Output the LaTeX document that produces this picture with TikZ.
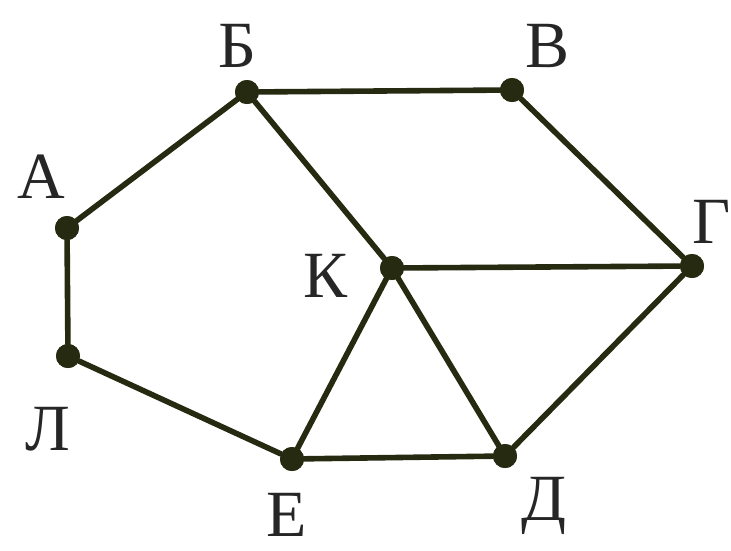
\documentclass[tikz,border=0pt]{standalone}
\usepackage{fontspec}
\setmainfont{Liberation Serif}
\usetikzlibrary{positioning}
\definecolor{olive}{HTML}{262A10}

\begin{document}
\begin{tikzpicture}[x=1pt,y=-1pt,
   v/.style={circle,fill=olive,draw=none,inner sep=0pt,minimum size=24pt},
   e/.style={draw=olive,line width=5.6pt,line cap=round},
   lbl/.style={inner sep=0pt,text=black!85,font=\fontsize{66}{66}\selectfont}]
  \useasboundingbox (0,0) rectangle (731,550);
  % vertices
  \node[v] (A) at (67,228) {};
  \node[v] (B) at (247,92) {};
  \node[v] (V) at (512,90) {};
  \node[v] (G) at (692,266) {};
  \node[v] (K) at (392,268) {};
  \node[v] (L) at (68,356) {};
  \node[v] (E) at (292,459) {};
  \node[v] (D) at (505,456) {};
  % edges
  \foreach \a/\b in {A/B,B/V,V/G,B/K,K/G,K/E,K/D,G/D,E/D,L/E,A/L}
    \draw[e] (\a) -- (\b);
  \foreach \n in {A,B,V,G,K,L,E,D}
    \node[v] at (\n) {};
  % labels
  \node[lbl] (lA) at (41,177) {А};
  \node[lbl] (lB) at (237,46) {Б};
  \node[lbl] (lV) at (548,46) {В};
  \node[lbl] (lG) at (712,222) {Г};
  \node[lbl] (lK) at (326,276) {К};
  \node[lbl] (lL) at (48,429) {Л};
  \node[lbl] (lE) at (287,515) {Е};
  \node[lbl] (lD) at (544,506) {Д};
\end{tikzpicture}
\end{document}
